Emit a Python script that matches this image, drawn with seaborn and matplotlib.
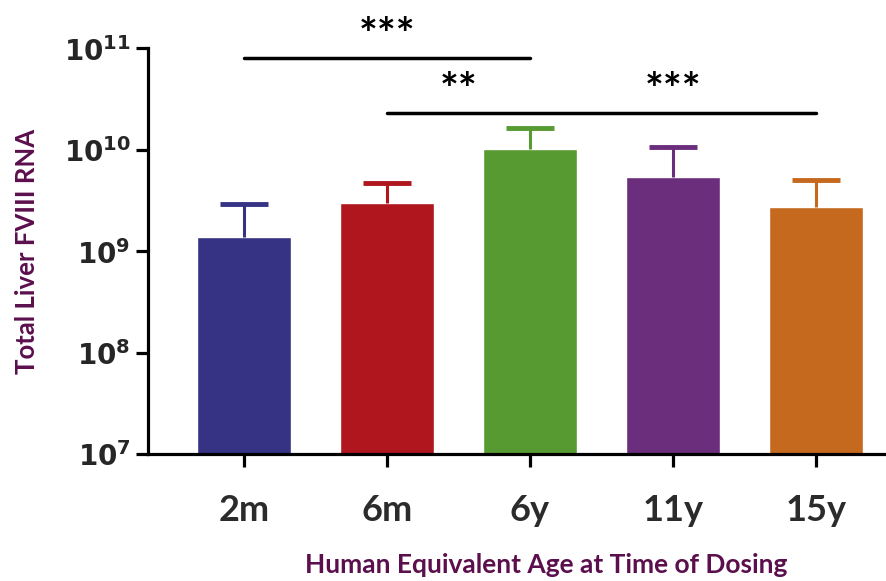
import numpy as np
import pandas as pd
import seaborn as sns
import matplotlib.pyplot as plt

# values (log axis)
ages = ["2m", "6m", "6y", "11y", "15y"]
rna_mean = [1.37e9, 2.97e9, 1.01e10, 5.36e9, 2.71e9]
rna_upper = [2.9e9, 4.68e9, 1.63e10, 1.06e10, 5.0e9]
bar_colors = ["#363385", "#AF161E", "#579A31", "#6B2E7C", "#C4691E"]
y_ticks = [1e7, 1e8, 1e9, 1e10, 1e11]
y_tick_labels = [r"$\mathbf{10^{7}}$", r"$\mathbf{10^{8}}$", r"$\mathbf{10^{9}}$",
                 r"$\mathbf{10^{10}}$", r"$\mathbf{10^{11}}$"]

# significance brackets: (start group, end group, y level, [(star text, x pos)])
brackets = [
    (0, 2, 8.0e10, [("***", 1.0)]),
    (1, 4, 2.3e10, [("**", 1.5), ("***", 3.0)]),
]

purple = "#5B0F4C"

sns.set_style("white")
plt.rcParams["font.family"] = ["Lato", "DejaVu Sans"]

df = pd.DataFrame({"age": ages, "rna": rna_mean})

fig = plt.figure(figsize=(8.86, 5.81), dpi=100)
ax = fig.add_axes([0.167, 0.2186, 0.833, 0.698])

sns.barplot(data=df, x="age", y="rna", hue="age", palette=bar_colors,
            width=0.66, legend=False, ax=ax, saturation=1)
ax.set_yscale("log")

# upper-only error bars (hide the lower cap)
for i in range(len(ages)):
    eb = ax.errorbar(i, rna_mean[i], yerr=[[0], [rna_upper[i] - rna_mean[i]]],
                     color=bar_colors[i], elinewidth=2.2, capsize=17, capthick=3.5, fmt="none")
    eb[1][0].set_visible(False)

ax.set_ylim(1e7, 1e11)
ax.set_xlim(-0.67, 4.49)
ax.set_yticks(y_ticks)
ax.set_yticklabels(y_tick_labels, fontsize=20)
ax.yaxis.set_minor_locator(plt.NullLocator())

for s in ["top", "right"]:
    ax.spines[s].set_visible(False)
for s in ["left", "bottom"]:
    ax.spines[s].set_linewidth(2.3)
    ax.spines[s].set_color("black")

ax.tick_params(axis="both", which="major", length=9, width=2.3, color="black",
               left=True, bottom=True)
ax.tick_params(axis="x", pad=20, labelsize=26, labelcolor="#2B2B2B")
for lbl in ax.get_xticklabels():
    lbl.set_fontweight("bold")

ax.set_xlabel("Human Equivalent Age at Time of Dosing", fontsize=19,
              fontweight="bold", color=purple)
ax.xaxis.set_label_coords(0.54, -0.245)
ax.set_ylabel("Total Liver FVIII RNA", fontsize=18.5, fontweight="bold",
              color=purple, labelpad=18)

for x0, x1, y, stars in brackets:
    ax.plot([x0, x1], [y, y], color="black", lw=2.5, clip_on=False)
    for txt, xs in stars:
        ax.text(xs, y * 1.05, txt, ha="center", va="bottom", fontsize=32,
                fontweight="bold", color="black", clip_on=False)

fig.savefig("out.png", dpi=100)
